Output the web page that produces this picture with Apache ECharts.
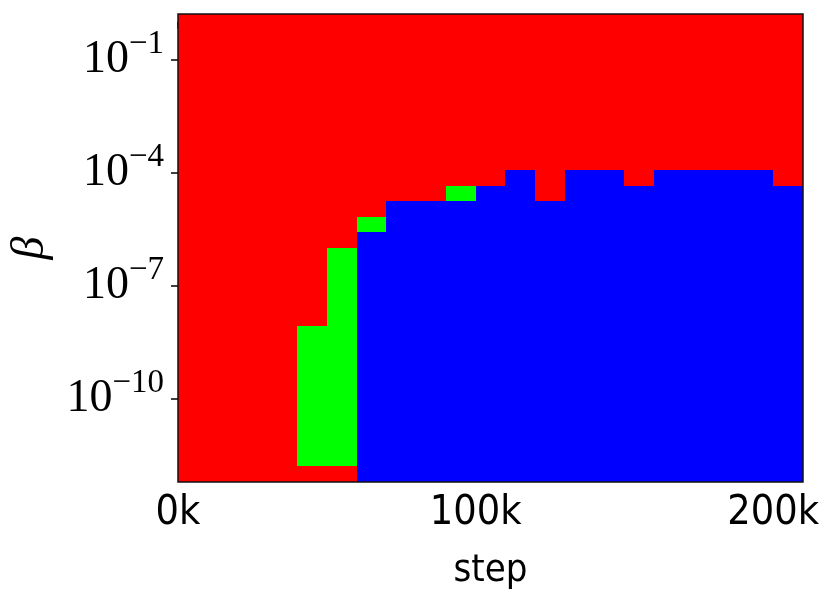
<!DOCTYPE html>
<html>
<head>
<meta charset="utf-8">
<script src="https://cdn.jsdelivr.net/npm/echarts@6/dist/echarts.min.js"></script>
<style>
  html, body { margin: 0; padding: 0; background: #fff; }
  #chart { width: 831px; height: 602px; }
</style>
</head>
<body>
<div id="chart"></div>
<script>
// training steps (left edge of each cell), 10k wide
const steps = [0, 10000, 20000, 30000, 40000, 50000, 60000, 70000, 80000, 90000, 100000,
  110000, 120000, 130000, 140000, 150000, 160000, 170000, 180000, 190000, 200000]
const stepWidth = 10000
// log10(beta) of each row, bottom to top
const betaExp = [-12.0, -11.586, -11.172, -10.759, -10.345, -9.931, -9.517, -9.103, -8.690, -8.276,
  -7.862, -7.448, -7.034, -6.621, -6.207, -5.793, -5.379, -4.966, -4.552, -4.138,
  -3.724, -3.310, -2.897, -2.483, -2.069, -1.655, -1.241, -0.828, -0.414, 0.0]
// outcome per cell, rows from top (beta = 1) to bottom (beta = 1e-12), one char per step
// R = red, G = green, B = blue
const outcomeRows = [
  'RRRRRRRRRRRRRRRRRRRRR',
  'RRRRRRRRRRRRRRRRRRRRR',
  'RRRRRRRRRRRRRRRRRRRRR',
  'RRRRRRRRRRRRRRRRRRRRR',
  'RRRRRRRRRRRRRRRRRRRRR',
  'RRRRRRRRRRRRRRRRRRRRR',
  'RRRRRRRRRRRRRRRRRRRRR',
  'RRRRRRRRRRRRRRRRRRRRR',
  'RRRRRRRRRRRRRRRRRRRRR',
  'RRRRRRRRRRRRRRRRRRRRR',
  'RRRRRRRRRRRBRBBRBBBBR',
  'RRRRRRRRRGBBRBBBBBBBB',
  'RRRRRRRBBBBBBBBBBBBBB',
  'RRRRRRGBBBBBBBBBBBBBB',
  'RRRRRRBBBBBBBBBBBBBBB',
  'RRRRRGBBBBBBBBBBBBBBB',
  'RRRRRGBBBBBBBBBBBBBBB',
  'RRRRRGBBBBBBBBBBBBBBB',
  'RRRRRGBBBBBBBBBBBBBBB',
  'RRRRRGBBBBBBBBBBBBBBB',
  'RRRRGGBBBBBBBBBBBBBBB',
  'RRRRGGBBBBBBBBBBBBBBB',
  'RRRRGGBBBBBBBBBBBBBBB',
  'RRRRGGBBBBBBBBBBBBBBB',
  'RRRRGGBBBBBBBBBBBBBBB',
  'RRRRGGBBBBBBBBBBBBBBB',
  'RRRRGGBBBBBBBBBBBBBBB',
  'RRRRGGBBBBBBBBBBBBBBB',
  'RRRRGGBBBBBBBBBBBBBBB',
  'RRRRRRBBBBBBBBBBBBBBB'
]
const yTicks = [-10, -7, -4, -1]
const xTicks = [0, 100000, 200000]

const colorMap = { R: '#ff0000', G: '#00ff00', B: '#0000ff' }
const halfRow = (betaExp[1] - betaExp[0]) / 2

const cells = []
outcomeRows.forEach((row, i) => {
  const r = betaExp.length - 1 - i
  for (let c = 0; c < steps.length; c++) {
    cells.push([steps[c], betaExp[r], row[c]])
  }
})

const chart = echarts.init(document.getElementById('chart'))
const option = {
  animation: false,
  backgroundColor: '#fff',
  grid: {
    left: 178,
    right: 28,
    top: 14,
    bottom: 120,
    show: true,
    borderColor: '#111',
    borderWidth: 1.5,
    backgroundColor: 'transparent',
    z: 10
  },
  xAxis: {
    type: 'value',
    min: steps[0],
    max: steps[steps.length - 1] + stepWidth,
    name: 'step',
    nameLocation: 'middle',
    nameGap: 70,
    nameTextStyle: {
      fontFamily: 'DejaVu Sans Condensed, Liberation Sans Narrow, sans-serif',
      fontSize: 38,
      color: '#000'
    },
    axisLine: { show: false },
    axisTick: {
      show: true,
      customValues: xTicks,
      length: 7,
      lineStyle: { color: '#000', width: 1.5 }
    },
    axisLabel: {
      customValues: xTicks,
      margin: 11,
      fontFamily: 'DejaVu Sans Condensed, Liberation Sans Narrow, sans-serif',
      fontSize: 41,
      color: '#000',
      formatter: v => (v / 1000) + 'k'
    },
    splitLine: { show: false }
  },
  yAxis: {
    type: 'value',
    min: betaExp[0] - halfRow,
    max: betaExp[betaExp.length - 1] + halfRow,
    name: 'β',
    nameLocation: 'middle',
    nameRotate: 90,
    nameGap: 124,
    nameTextStyle: {
      fontFamily: 'Liberation Serif, DejaVu Serif, serif',
      fontStyle: 'italic',
      fontSize: 46,
      color: '#000'
    },
    axisLine: { show: false },
    axisTick: {
      show: true,
      customValues: yTicks,
      length: 7,
      lineStyle: { color: '#000', width: 1.5 }
    },
    axisLabel: {
      customValues: yTicks,
      margin: 14,
      color: '#000',
      formatter: v => '{b|10}{s|−' + Math.abs(v) + '}',
      rich: {
        b: {
          fontFamily: 'Liberation Serif, DejaVu Serif, serif',
          fontSize: 46,
          lineHeight: 50,
          color: '#000'
        },
        s: {
          fontFamily: 'Liberation Serif, DejaVu Serif, serif',
          fontSize: 33,
          lineHeight: 33,
          padding: [0, 0, 30, 0],
          color: '#000'
        }
      }
    },
    splitLine: { show: false }
  },
  series: [{
    type: 'custom',
    data: cells,
    encode: { x: 0, y: 1 },
    renderItem: (params, api) => {
      const s = api.value(0)
      const b = api.value(1)
      const code = cells[params.dataIndex][2]
      const p0 = api.coord([s, b - halfRow])
      const p1 = api.coord([s + stepWidth, b + halfRow])
      const x0 = Math.round(p0[0])
      const x1 = Math.round(p1[0])
      const y0 = Math.round(p0[1])
      const y1 = Math.round(p1[1])
      return {
        type: 'rect',
        shape: { x: x0, y: y1, width: x1 - x0, height: y0 - y1 },
        style: { fill: colorMap[code] }
      }
    }
  }]
}
chart.setOption(option)
</script>
</body>
</html>
